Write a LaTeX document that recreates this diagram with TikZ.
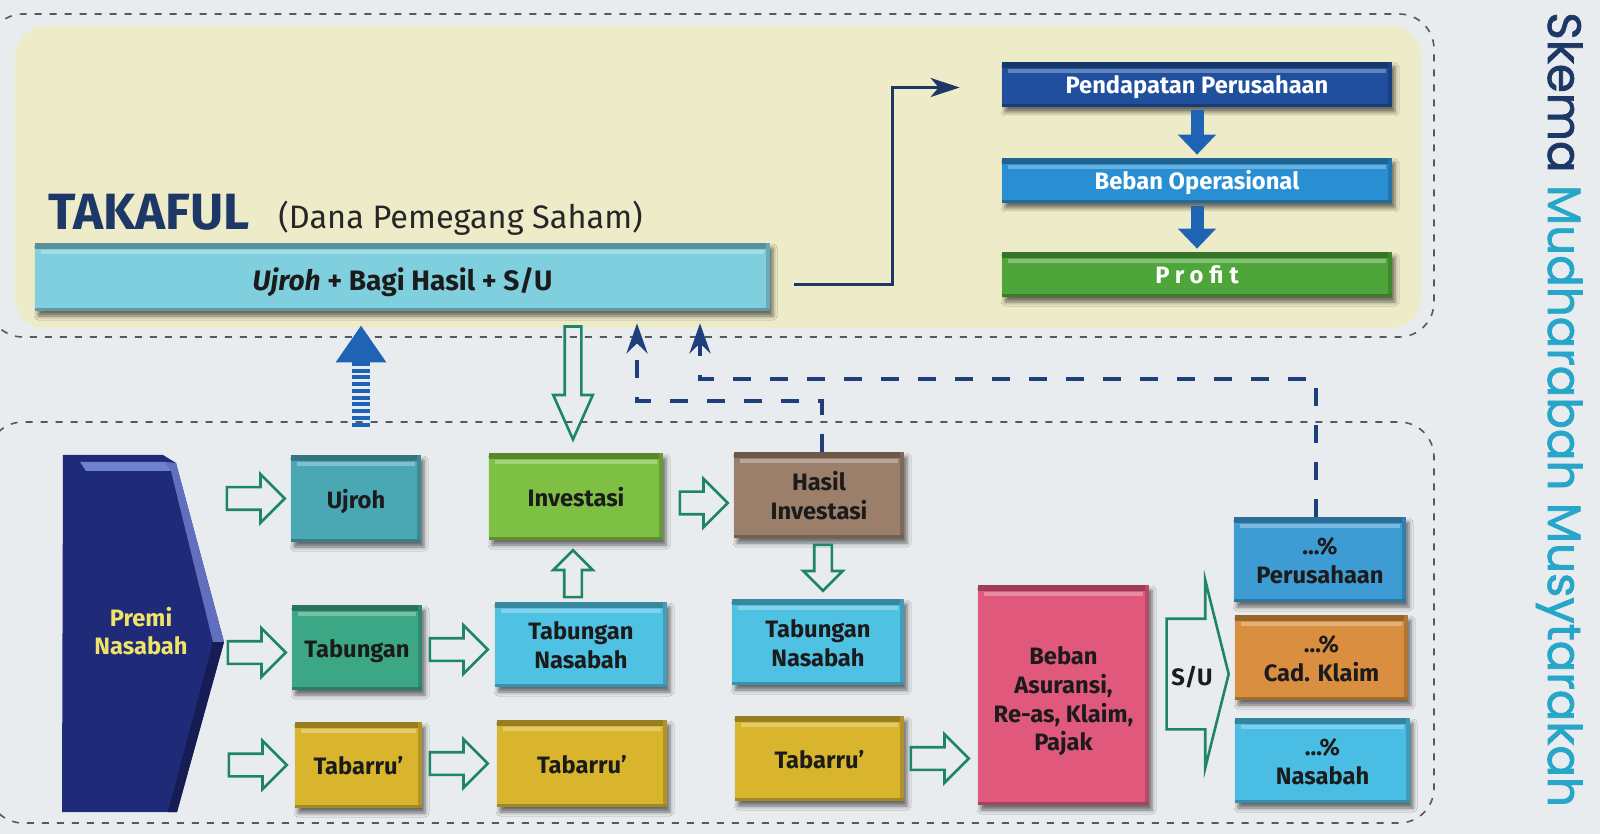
\documentclass[tikz,border=0pt]{standalone}
\usepackage{fontspec}
\setmainfont{Fira Sans}
\newfontfamily\titlefont[FakeBold=1.6]{Poppins}
\usetikzlibrary{arrows.meta,shapes.arrows,shadows.blur}
\newdimen\pxu \pxu=0.02cm
\newcommand\dn[2][8]{\raisebox{0pt}[\dimexpr\height+#1\pxu\relax]{\begin{tabular}{@{}c@{}}#2\end{tabular}}}
\definecolor{bg}{HTML}{E9ECEE}
\definecolor{pyellow}{HTML}{EEEBC8}
\definecolor{pdashc}{HTML}{55585C}
\definecolor{navy}{HTML}{1D3866}
\definecolor{navyd}{HTML}{1E3F7C}
\definecolor{barc}{HTML}{7FCFDE}
\definecolor{pendc}{HTML}{1F4F9D}
\definecolor{bopc}{HTML}{2A8FD2}
\definecolor{profc}{HTML}{4EA63A}
\definecolor{ujc}{HTML}{4AA8B5}
\definecolor{invc}{HTML}{7DC043}
\definecolor{hasc}{HTML}{9C7F6B}
\definecolor{tabc}{HTML}{3BA784}
\definecolor{tnc}{HTML}{4FC1E3}
\definecolor{tbrc}{HTML}{D8B52D}
\definecolor{bebc}{HTML}{E0587B}
\definecolor{perc}{HTML}{3E9CD4}
\definecolor{cadc}{HTML}{D98F3F}
\definecolor{nasc}{HTML}{49BDE4}
\definecolor{premic}{HTML}{1F2A78}
\definecolor{premihl}{HTML}{7080D0}
\definecolor{premit}{HTML}{EFE36A}
\definecolor{agreen}{HTML}{1E8566}
\definecolor{ablue}{HTML}{1F63B5}
\definecolor{ttl}{HTML}{28A6C9}
\definecolor{txt}{HTML}{1B1B1B}
\begin{document}
\begin{tikzpicture}[x=0.02cm,y=-0.02cm,
  bevel/.style={fill=#1, draw=none, inner sep=1pt, align=center, text=txt,
    font=\fontsize{13.5}{16.3}\selectfont\bfseries,
    blur shadow={shadow xshift=3\pxu, shadow yshift=-5\pxu, shadow blur radius=4\pxu, shadow opacity=55},
    path picture={
      \fill[#1!70!black] (path picture bounding box.north west) rectangle ([yshift=-6\pxu]path picture bounding box.north east);
      \fill[white,opacity=0.3] ([xshift=6\pxu,yshift=-7\pxu]path picture bounding box.north west) rectangle ([xshift=-6\pxu,yshift=-11\pxu]path picture bounding box.north east);
      \fill[#1!82!black] ([xshift=-4\pxu]path picture bounding box.north east) rectangle (path picture bounding box.south east);
      \fill[#1!75!black] ([yshift=3\pxu]path picture bounding box.south west) rectangle (path picture bounding box.south east);
    }},
  sz/.style 2 args={minimum width=#1\pxu, minimum height=#2\pxu},
  pdash/.style={draw=pdashc, line width=1.6\pxu, dash pattern=on 0.14cm off 0.16cm},
  harrow/.style={single arrow, draw=agreen, line width=2.6\pxu, inner xsep=0pt, inner ysep=10\pxu,
    single arrow head extend=13\pxu, single arrow tip angle=90, minimum height=58\pxu, minimum width=0pt},
  varrow/.style={harrow, inner xsep=7.5\pxu, inner ysep=0pt, single arrow head extend=11\pxu},
  solidar/.style={draw=ablue, line width=0.26cm, -{Triangle[width=0.74cm,length=0.4cm]}, shorten <=3\pxu, shorten >=3\pxu},
  navyc/.style={draw=navy, line width=3\pxu, -{Stealth[length=0.58cm,width=0.38cm,inset=0.16cm]}},
  navydash/.style={draw=navyd, line width=4\pxu, dash pattern=on 0.36cm off 0.38cm, -{Stealth[length=0.6cm,width=0.42cm,inset=0.2cm]}},
  lbl/.style={font=\fontsize{13.5}{16.3}\selectfont\bfseries, text=txt, inner sep=0pt}
]
\useasboundingbox (0,0) rectangle (1600,834);
\fill[bg] (0,0) rectangle (1600,834);
% panels
\fill[pyellow, rounded corners=30\pxu] (15,26) rectangle (1421,328);
\draw[pdash, rounded corners=35\pxu] (-12,14) rectangle (1434,337);
\draw[pdash, rounded corners=35\pxu] (-12,422) rectangle (1434,823);
% title right
\node[anchor=base west, rotate=-90, inner sep=0pt, font=\titlefont\fontsize{26.6}{30}\selectfont] (title) at (1548,12) {\textcolor{navy}{Skema} \textcolor{ttl}{Mudharabah Musytarakah}};
% takaful
\node[anchor=base west, inner sep=0pt, text=navy, font={\fontsize{29}{32}\selectfont\bfseries}] (tk) at (48,230) {TAKAFUL};
\node[anchor=base west, inner sep=0pt, text=black!85, font=\fontsize{18.5}{22}\selectfont] (dps) at (278,229) {(Dana Pemegang Saham)};
\node[bevel=barc, sz={735}{68}, font=\fontsize{16}{19}\selectfont\bfseries] (bar) at (402.5,277) {\dn[14]{\textit{Ujroh} + Bagi Hasil + S/U}};
% top right
\node[bevel=pendc, sz={390}{45}, text=white] (pend) at (1197,84.5) {\dn[6]{Pendapatan Perusahaan}};
\node[bevel=bopc, sz={390}{45}, text=white] (bop) at (1197,180.5) {\dn[6]{Beban Operasional}};
\node[bevel=profc, sz={390}{45}, text=white] (prof) at (1197,274.5) {\dn[6]{\addfontfeature{LetterSpace=25}Profit}};
\draw[solidar] (pend.south) -- (bop.north);
\draw[solidar] (bop.south) -- (prof.north);
\coordinate (c1) at (892,285);
\draw[navyc] ([xshift=24\pxu,yshift=-8\pxu]bar.east) -- (c1) |- ([xshift=-42\pxu,yshift=-3\pxu]pend.west);
% premi shape
\fill[premic] (63,455) -- (163,455) -- (176,463) -- (224,642) -- (177,812) -- (62,812) -- cycle;
\fill[premihl] (80,462) -- (166,462) -- (171,471) -- (86,471) -- cycle;
\fill[premihl!80!premic] (166,462) -- (176,463) -- (224,642) -- (213,642) -- (171,471) -- cycle;
\fill[premic!70!black] (224,642) -- (177,812) -- (168,812) -- (213,642) -- cycle;
\node[lbl, text=premit, align=center] (premi) at (141,631) {Premi\\Nasabah};
% lower boxes
\node[bevel=ujc, sz={130}{87}] (uj) at (356,498.5) {\dn{Ujroh}};
\node[bevel=invc, sz={174}{87}] (inv) at (576,496.5) {\dn{Investasi}};
\node[bevel=hasc, sz={170}{86}] (hasil) at (819,495) {\dn{Hasil\\Investasi}};
\node[bevel=tabc, sz={130}{85}] (tab) at (357,647.5) {\dn{Tabungan}};
\node[bevel=tnc, sz={172}{85}] (tn1) at (581,644.5) {\dn{Tabungan\\Nasabah}};
\node[bevel=tnc, sz={172}{86}] (tn2) at (818,642) {\dn{Tabungan\\Nasabah}};
\node[bevel=tbrc, sz={127}{86}] (tb1) at (358.5,765) {\dn{Tabarru'}};
\node[bevel=tbrc, sz={170}{87}] (tb2) at (582,763.5) {\dn{Tabarru'}};
\node[bevel=tbrc, sz={169}{85}] (tb3) at (819.5,758.5) {\dn{Tabarru'}};
\node[bevel=bebc, sz={171}{220}] (beb) at (1063.5,695) {\dn[14]{Beban\\Asuransi,\\Re-as, Klaim,\\Pajak}};
\node[bevel=perc, sz={172}{85}] (per) at (1320,559.5) {\dn{...\%\\Perusahaan}};
\node[bevel=cadc, sz={173}{85}] (cad) at (1321.5,657.5) {\dn{...\%\\Cad. Klaim}};
\node[bevel=nasc, sz={175}{85}] (nas) at (1322.5,760.5) {\dn{...\%\\Nasabah}};
% hollow arrows
\node[harrow, anchor=tip] (h1) at ([xshift=-4\pxu]uj.west) {};
\node[harrow, anchor=tip] (h2) at ([xshift=-4\pxu,yshift=-5\pxu]tab.west) {};
\node[harrow, anchor=tip] (h3) at ([xshift=-6\pxu]tb1.west) {};
\node[harrow, anchor=tip] (h4) at ([xshift=-5\pxu,yshift=-5\pxu]tn1.west) {};
\node[harrow, anchor=tip] (h5) at ([xshift=-7\pxu]tb2.west) {};
\node[harrow, anchor=tip, minimum height=48\pxu] (h6) at ([xshift=-4\pxu,yshift=-8\pxu]hasil.west) {};
\node[harrow, anchor=tip] (h7) at ([xshift=-7\pxu]tb3.east -| beb.west) {};
\node[varrow, shape border rotate=90, anchor=tip, minimum height=47\pxu] (h8) at ([xshift=-3\pxu,yshift=-8\pxu]inv.south) {};
\node[varrow, shape border rotate=270, anchor=tip, minimum height=46\pxu] (h9) at ([xshift=5\pxu,yshift=6\pxu]tn2.north) {};
\node[varrow, shape border rotate=270, anchor=tip, minimum height=113\pxu, inner xsep=7\pxu, single arrow head extend=11.5\pxu, single arrow tip angle=48] (h10) at ([xshift=-3\pxu,yshift=10\pxu]inv.north) {};
\node[harrow, anchor=tail, minimum height=62\pxu, inner ysep=54\pxu, single arrow head extend=38.5\pxu, single arrow tip angle=152] (su) at ([xshift=16\pxu,yshift=21\pxu]beb.east) {};
\node[lbl] (sulbl) at (1192,677) {S/U};
% striped up arrow
\draw[ablue, line width=0.36cm, dash pattern=on 0.08cm off 0.055cm, -{Triangle[width=0.96cm,length=0.74cm]}, shorten >=14\pxu] ([xshift=5\pxu,yshift=28\pxu]uj.north) -- ([xshift=5\pxu]uj.north |- bar.south);
% dashed navy connectors
\coordinate (d1) at (637,401);
\coordinate (d2) at (700,379);
\draw[navydash] ([xshift=3\pxu]hasil.north) |- (d1) -- ([yshift=-12\pxu]d1 |- bar.south);
\draw[navydash] ([xshift=-4\pxu]per.north) |- (d2) -- ([yshift=-12\pxu]d2 |- bar.south);
\end{tikzpicture}
\end{document}
